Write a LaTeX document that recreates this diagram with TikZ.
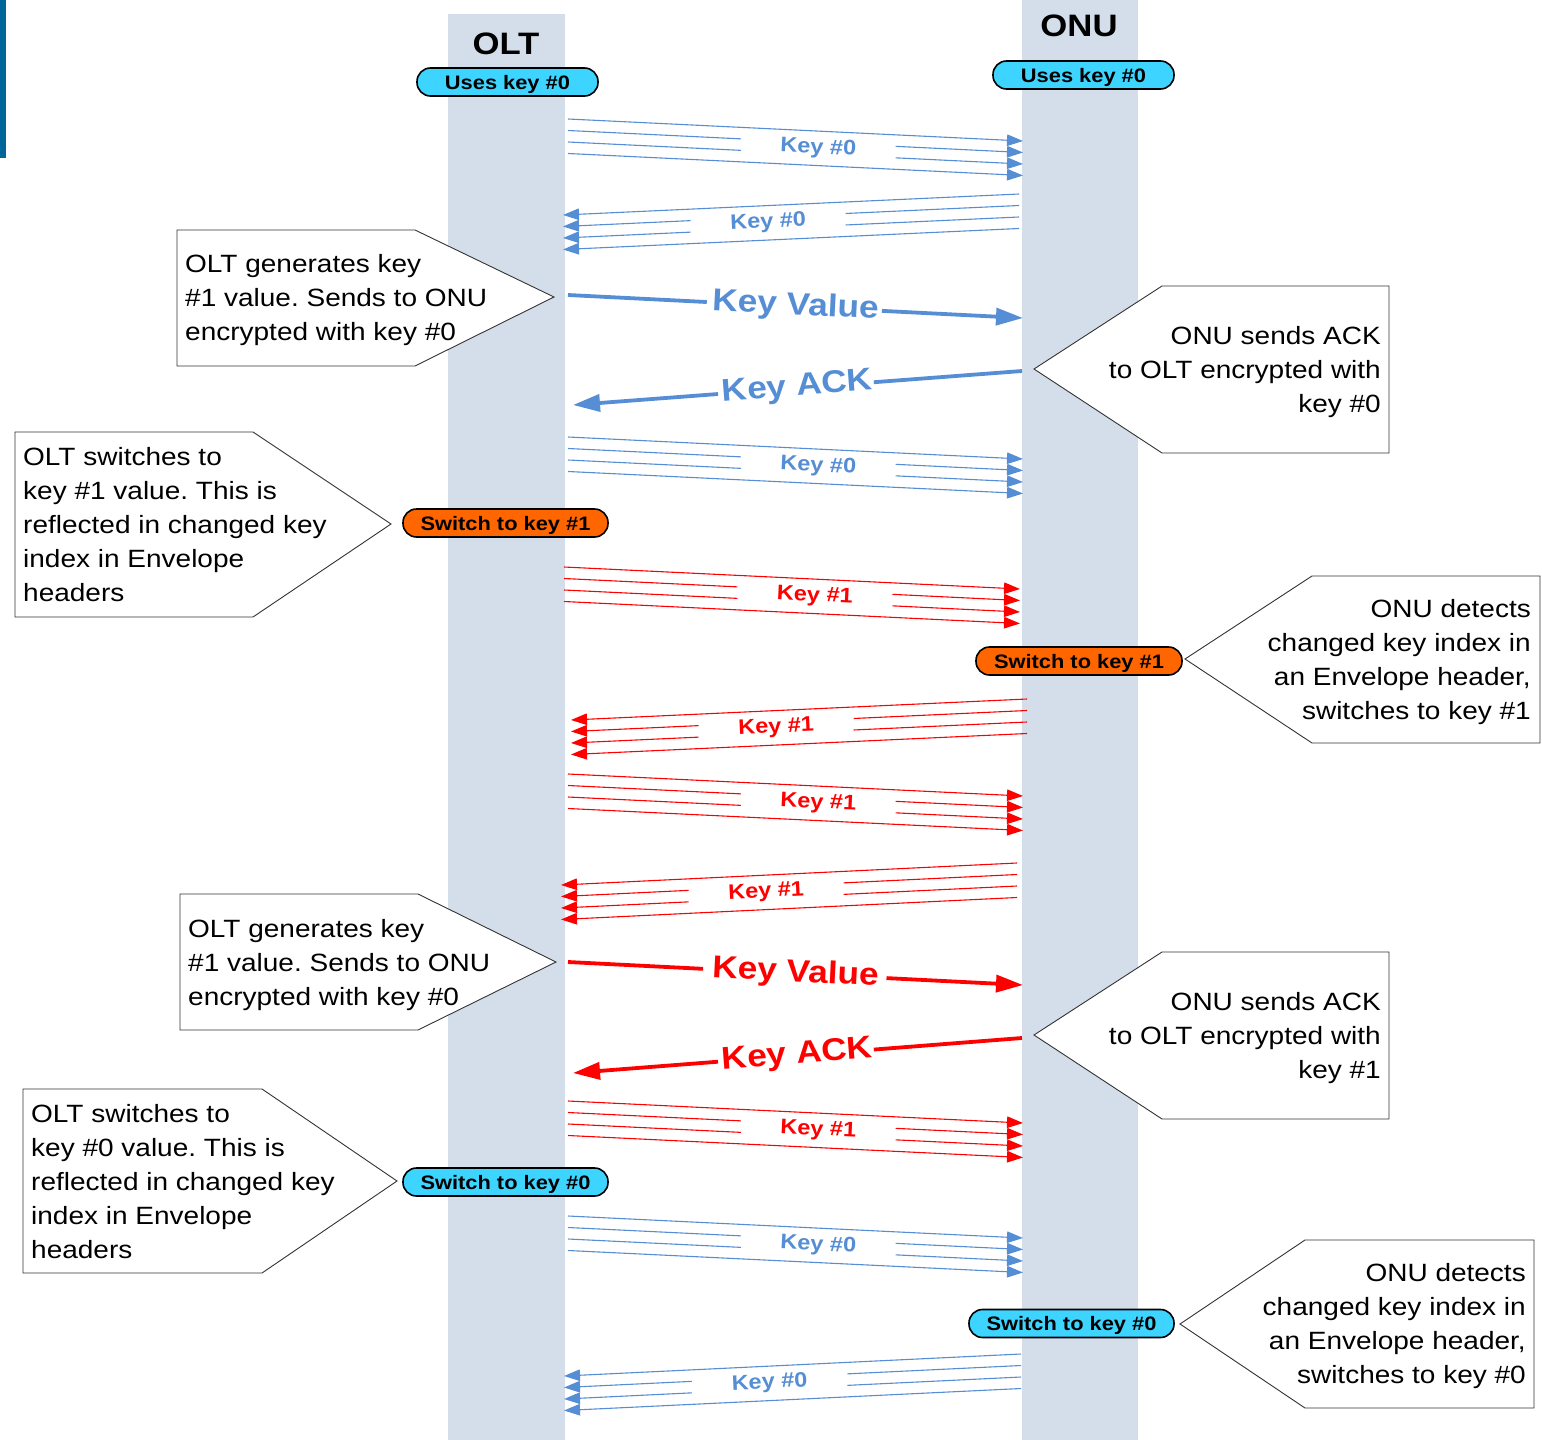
\documentclass[tikz,border=0pt]{standalone}
\usepackage{fontspec}
\setmainfont{Liberation Sans}[FakeStretch=1.12]
\usetikzlibrary{arrows.meta,calc}
\frenchspacing
\definecolor{kblue}{RGB}{85,142,213}
\definecolor{kred}{RGB}{255,0,0}
\definecolor{bandc}{RGB}{212,222,234}
\definecolor{kcyan}{RGB}{61,212,255}
\definecolor{korange}{RGB}{255,102,0}
\definecolor{barblue}{RGB}{0,102,153}
\tikzset{
  lifeline/.style={fill=bandc, draw=none},
  msgline/.style={line width=1.1pt},
  msg/.style={msgline, -{Triangle[length=16pt,width=11.5pt]}},
  bigline/.style={line width=3.8pt},
  bigmsg/.style={bigline, -{Triangle[length=27pt,width=17pt]}},
  keylbl/.style={font=\fontsize{21}{25}\selectfont\bfseries, inner sep=0pt},
  biglbl/.style={font=\fontsize{31.5}{36}\selectfont\bfseries, inner sep=0pt},
  pill/.style={draw=black, line width=1.6pt, rounded corners=13.5pt, minimum height=28pt,
    inner sep=0pt, text height=14pt, text depth=0pt, font=\fontsize{19.5}{22}\selectfont\bfseries},
  callout/.style={draw=black!80, line width=0.9pt, fill=white},
  ctext/.style={font=\fontsize{25}{34}\selectfont, inner sep=0pt},
  titlelbl/.style={font=\fontsize{31}{36}\selectfont\bfseries, inner sep=0pt, anchor=base},
}
\newcommand\keybundle[7]{%
  \foreach \k in {1,2,3,4}{%
    \coordinate (#1s\k) at (#2,{#3+(\k-1)*11.5});
    \coordinate (#1e\k) at (#4,{#5+(\k-1)*11.5});
  }%
  \draw[msg,#6] (#1s1) -- (#1e1);
  \draw[msg,#6] (#1s4) -- (#1e4);
  \foreach \k in {2,3}{%
    \draw[msgline,#6] (#1s\k) -- ($(#1s\k)!0.38!(#1e\k)$);
    \draw[msg,#6] ($(#1s\k)!0.72!(#1e\k)$) -- (#1e\k);
  }%
  \path ($(#1s1)!0.5!(#1s4)$) -- node[pos=0.55,sloped,keylbl,text=#6] (#1l) {#7} ($(#1e1)!0.5!(#1e4)$);
}
\begin{document}
\begin{tikzpicture}[x=1pt,y=-1pt]
\useasboundingbox (0,0) rectangle (1542,1440);
\fill[white] (0,0) rectangle (1542,1440);
\fill[barblue] (0,0) rectangle (6,158);
% lifelines
\fill[lifeline] (448,14) rectangle (565,1440);
\fill[lifeline] (1022,0) rectangle (1138,1440);
\node[titlelbl] (olt) at (506,54) {OLT};
\node[titlelbl] (onu) at (1079,36) {ONU};
\node[pill, fill=kcyan, minimum width=181pt] (oltuses) at (507.5,82) {Uses key \#0};
\node[pill, fill=kcyan, minimum width=181pt] (onuuses) at (1083.5,75) {Uses key \#0};

% message bundles
\keybundle{b1}{568}{119}{1023}{141}{kblue}{Key \#0}
\keybundle{b2}{1019}{194}{563}{215}{kblue}{Key \#0}
\keybundle{b3}{568}{437}{1023}{459}{kblue}{Key \#0}
\keybundle{b4}{564}{567}{1020}{589}{kred}{Key \#1}
\keybundle{b5}{1027}{699}{571}{720}{kred}{Key \#1}
\keybundle{b6}{568}{774}{1023}{796}{kred}{Key \#1}
\keybundle{b7}{1017}{863}{561}{885}{kred}{Key \#1}
\keybundle{b8}{568}{1101}{1023}{1123}{kred}{Key \#1}
\keybundle{b9}{568}{1216}{1023}{1238}{kblue}{Key \#0}
\keybundle{b10}{1021}{1354}{564}{1376}{kblue}{Key \#0}

% key value / ack (blue)
\coordinate (kv1s) at (568,295); \coordinate (kv1e) at (1023,318);
\draw[bigline,kblue] (kv1s) -- ($(kv1s)!0.305!(kv1e)$);
\draw[bigmsg,kblue] ($(kv1s)!0.69!(kv1e)$) -- (kv1e);
\path (kv1s) -- node[pos=0.5,sloped,biglbl,text=kblue] (kv1l) {Key Value} (kv1e);
\coordinate (ka1s) at (1022,371); \coordinate (ka1e) at (573,405);
\draw[bigline,kblue] (ka1s) -- ($(ka1s)!0.33!(ka1e)$);
\draw[bigmsg,kblue] ($(ka1s)!0.677!(ka1e)$) -- (ka1e);
\path (ka1s) -- node[pos=0.5,sloped,biglbl,text=kblue] (ka1l) {Key ACK} (ka1e);

% key value / ack (red)
\coordinate (kv2s) at (568,962); \coordinate (kv2e) at (1023,985);
\draw[bigline,kred] (kv2s) -- ($(kv2s)!0.297!(kv2e)$);
\draw[bigmsg,kred] ($(kv2s)!0.70!(kv2e)$) -- (kv2e);
\path (kv2s) -- node[pos=0.5,sloped,biglbl,text=kred] (kv2l) {Key Value} (kv2e);
\coordinate (ka2s) at (1022,1038); \coordinate (ka2e) at (573,1073);
\draw[bigline,kred] (ka2s) -- ($(ka2s)!0.33!(ka2e)$);
\draw[bigmsg,kred] ($(ka2s)!0.677!(ka2e)$) -- (ka2e);
\path (ka2s) -- node[pos=0.5,sloped,biglbl,text=kred] (ka2l) {Key ACK} (ka2e);

% switch pills
\node[pill, fill=korange, minimum width=205pt] (oltsw1) at (505.5,523) {Switch to key \#1};
\node[pill, fill=korange, minimum width=206pt] (onusw1) at (1079,661) {Switch to key \#1};
\node[pill, fill=kcyan, minimum width=205pt] (oltsw0) at (505.5,1182) {Switch to key \#0};
\node[pill, fill=kcyan, minimum width=205pt] (onusw0) at (1071.5,1323.5) {Switch to key \#0};

% callouts
\draw[callout] (177,230) -- (415,230) -- (554,297) -- (415,366) -- (177,366) -- cycle;
\node[ctext, anchor=north west, align=left] (c1) at (185,253) {\rule{0pt}{19pt}OLT generates key\\\#1 value. Sends to ONU\\encrypted with key \#0};

\draw[callout] (1389,286) -- (1162,286) -- (1034,369) -- (1162,453) -- (1389,453) -- cycle;
\node[ctext, anchor=north east, align=right] (c2) at (1381,325) {\rule{0pt}{19pt}ONU sends ACK\\to OLT encrypted with\\key \#0};

\draw[callout] (15,432) -- (253,432) -- (391,524) -- (253,617) -- (15,617) -- cycle;
\node[ctext, anchor=north west, align=left] (c3) at (23,446) {\rule{0pt}{19pt}OLT switches to\\key \#1 value. This is\\reflected in changed key\\index in Envelope\\headers};

\draw[callout] (1540,576) -- (1312,576) -- (1185,659) -- (1312,743) -- (1540,743) -- cycle;
\node[ctext, anchor=north east, align=right] (c4) at (1531,598) {\rule{0pt}{19pt}ONU detects\\changed key index in\\an Envelope header,\\switches to key \#1};

\draw[callout] (180,894) -- (418,894) -- (556,962) -- (418,1030) -- (180,1030) -- cycle;
\node[ctext, anchor=north west, align=left] (c5) at (188,918) {\rule{0pt}{19pt}OLT generates key\\\#1 value. Sends to ONU\\encrypted with key \#0};

\draw[callout] (1389,952) -- (1162,952) -- (1034,1035) -- (1162,1119) -- (1389,1119) -- cycle;
\node[ctext, anchor=north east, align=right] (c6) at (1381,991) {\rule{0pt}{19pt}ONU sends ACK\\to OLT encrypted with\\key \#1};

\draw[callout] (23,1089) -- (262,1089) -- (397,1181) -- (262,1273) -- (23,1273) -- cycle;
\node[ctext, anchor=north west, align=left] (c7) at (31,1103) {\rule{0pt}{19pt}OLT switches to\\key \#0 value. This is\\reflected in changed key\\index in Envelope\\headers};

\draw[callout] (1534,1240) -- (1305,1240) -- (1180,1324) -- (1305,1408) -- (1534,1408) -- cycle;
\node[ctext, anchor=north east, align=right] (c8) at (1526,1262) {\rule{0pt}{19pt}ONU detects\\changed key index in\\an Envelope header,\\switches to key \#0};
\end{tikzpicture}
\end{document}
